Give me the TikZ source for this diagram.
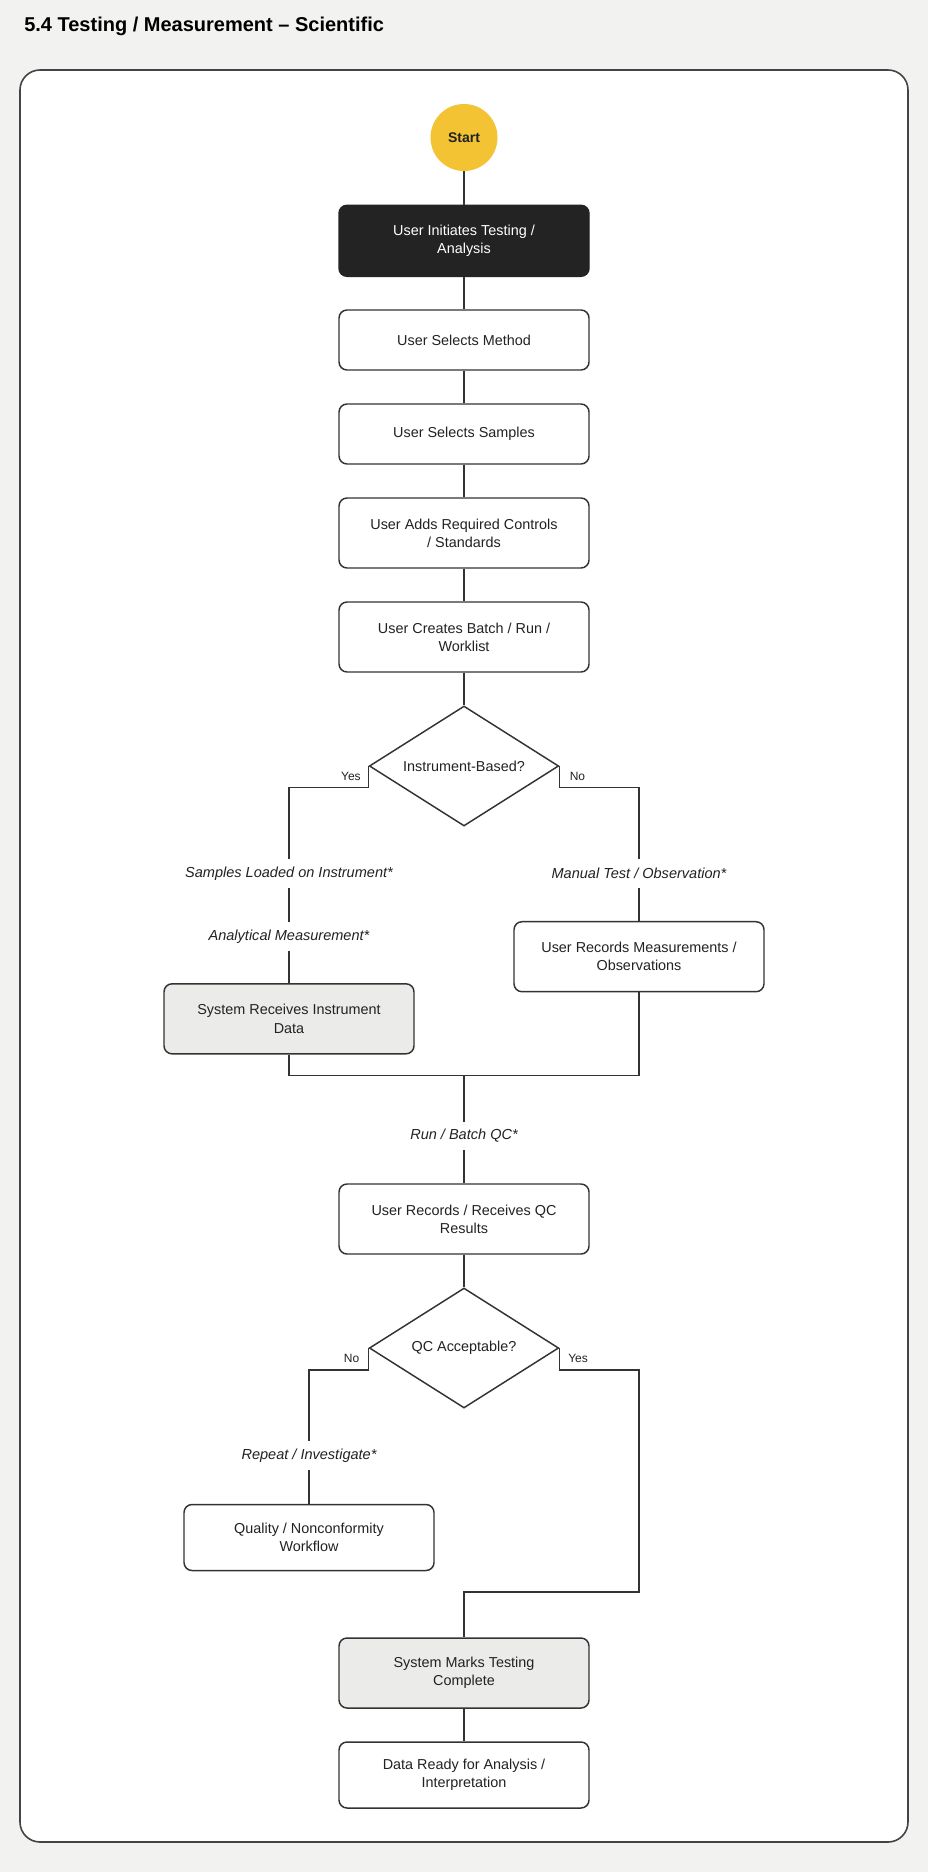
\documentclass[tikz,border=0pt]{standalone}
\usepackage{fontspec}
\setmainfont{Liberation Sans}
\usetikzlibrary{shapes.geometric}
\definecolor{bgc}{HTML}{F2F2F0}
\definecolor{framec}{HTML}{444444}
\definecolor{linec}{HTML}{333333}
\definecolor{txtc}{HTML}{222222}
\definecolor{grayfill}{HTML}{EBEBEA}
\definecolor{darkfill}{HTML}{232323}
\definecolor{startc}{HTML}{F3C333}
\tikzset{
  procbox/.style={draw=linec, line width=1.1pt, rounded corners=6pt, fill=white,
    minimum width=187.5pt, minimum height=52.5pt, inner sep=0pt, align=center,
    text=txtc, font=\fontsize{10.8pt}{13.7pt}\selectfont},
  onebox/.style={procbox, minimum height=45pt},
  graybox/.style={procbox, fill=grayfill},
  darkbox/.style={procbox, fill=darkfill, draw=darkfill, text=white},
  decision/.style={diamond, shape aspect=1.58, draw=linec, line width=1.1pt, fill=white,
    minimum width=142pt, minimum height=90pt, inner sep=0pt, text=txtc,
    font=\fontsize{10.8pt}{13.7pt}\selectfont},
  startnode/.style={circle, fill=startc, minimum size=50.25pt, inner sep=0pt,
    text=txtc, font=\bfseries\fontsize{10.5pt}{12pt}\selectfont},
  edgelab/.style={fill=white, inner xsep=2pt, inner ysep=0pt, minimum height=21pt,
    text=txtc, font=\itshape\fontsize{10.9pt}{12pt}\selectfont},
  branchlab/.style={inner sep=0pt, text=txtc, font=\fontsize{9pt}{10pt}\selectfont},
  conn/.style={draw=linec, line width=1.1pt}
}
\begin{document}
\begin{tikzpicture}[x=0.75pt, y=-0.75pt]
\useasboundingbox[fill=bgc] (0,0) rectangle (928,1872);
\node[anchor=base west, inner sep=0pt, text=black, font=\bfseries\fontsize{15pt}{18pt}\selectfont] (title) at (24,32) {5.4 Testing / Measurement – Scientific};
\draw[draw=framec, fill=white, line width=1.2pt, rounded corners=15pt] (20,70) rectangle (908,1842);

\node[startnode] (start) at (464,137.5) {Start};
\node[darkbox, minimum height=53.25pt] (init) at (464,240.8) {User Initiates Testing /\\Analysis};
\node[onebox] (method) at (464,340) {User Selects Method};
\node[onebox] (samples) at (464,434) {User Selects Samples};
\node[procbox] (controls) at (464,533) {User Adds Required Controls\\/ Standards};
\node[procbox] (batch) at (464,637) {User Creates Batch / Run /\\Worklist};
\node[decision] (instr) at (464,766) {Instrument-Based?};
\node[branchlab, anchor=base east] (yes1) at (361,780) {Yes};
\node[branchlab, anchor=base west] (no1) at (569.5,780) {No};
\node[edgelab] (loaded) at (289,873.5) {Samples Loaded on Instrument*};
\node[edgelab] (analyt) at (289,936.5) {Analytical Measurement*};
\node[edgelab] (manual) at (639,873.5) {Manual Test / Observation*};
\node[graybox] (sysrecv) at (289,1018.8) {System Receives Instrument\\Data};
\node[procbox] (userrec) at (639,956.7) {User Records Measurements /\\Observations};
\coordinate (merge) at (464,1075.7);
\node[edgelab] (runqc) at (464,1136) {Run / Batch QC*};
\node[procbox] (qcres) at (464,1219) {User Records / Receives QC\\Results};
\node[decision] (qcok) at (464,1348) {QC Acceptable?};
\node[branchlab, anchor=base east] (no2) at (359.5,1362) {No};
\node[branchlab, anchor=base west] (yes2) at (568,1362) {Yes};
\node[edgelab] (repeat) at (309,1455.5) {Repeat / Investigate*};
\node[procbox, minimum height=49.5pt] (quality) at (309,1537.5) {Quality / Nonconformity\\Workflow};
\coordinate (yesturn) at (639,1592);
\node[graybox] (marks) at (464,1673) {System Marks Testing\\Complete};
\node[procbox, minimum height=49.5pt] (ready) at (464,1775) {Data Ready for Analysis /\\Interpretation};

\draw[conn] (start) -- (init);
\draw[conn] (init) -- (method);
\draw[conn] (method) -- (samples);
\draw[conn] (samples) -- (controls);
\draw[conn] (controls) -- (batch);
\draw[conn] (batch) -- (instr);
\draw[conn] (instr.west) -- ++(0,21.7) -| (loaded.north);
\draw[conn] (loaded.south) -- (analyt.north);
\draw[conn] (analyt.south) -- (sysrecv.north);
\draw[conn] (instr.east) -- ++(0,21.7) -| (manual.north);
\draw[conn] (manual.south) -- (userrec.north);
\draw[conn] (sysrecv.south) |- (merge);
\draw[conn] (userrec.south) |- (merge);
\draw[conn] (merge) -- (runqc.north);
\draw[conn] (runqc.south) -- (qcres.north);
\draw[conn] (qcres) -- (qcok);
\draw[conn] (qcok.west) -- ++(0,21.8) -| (repeat.north);
\draw[conn] (repeat.south) -- (quality.north);
\draw[conn] (qcok.east) -- ++(0,21.8) -| (yesturn) -| (marks.north);
\draw[conn] (marks) -- (ready);
\end{tikzpicture}
\end{document}
